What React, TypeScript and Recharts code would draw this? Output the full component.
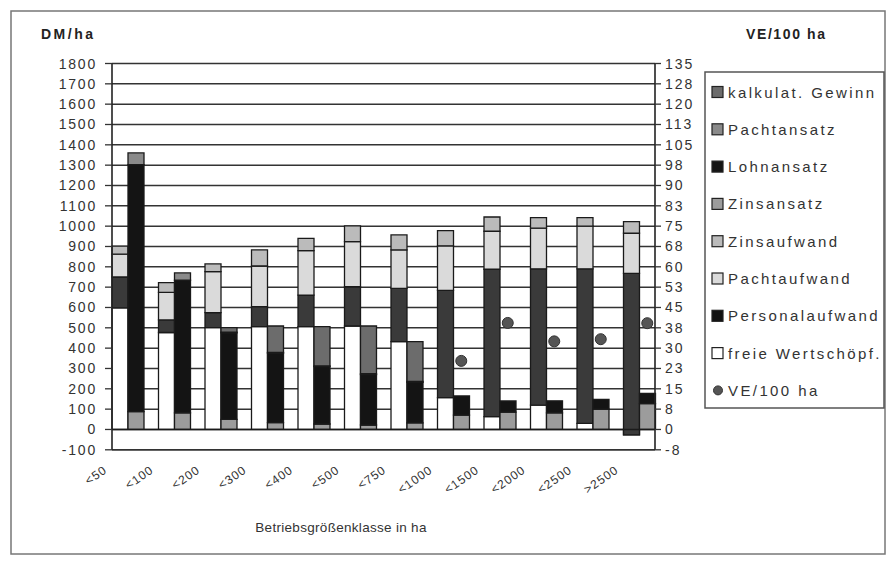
import React from 'react';
import { ComposedChart, Bar, Line, XAxis, YAxis, CartesianGrid, ReferenceLine } from 'recharts';

// ---------- data ----------
const categories = ['<50', '<100', '<200', '<300', '<400', '<500', '<750', '<1000', '<1500', '<2000', '<2500', '>2500'];

// left stack (DM/ha)
const freieWertschoepfung = [598, 477, 501, 506, 506, 509, 432, 157, 63, 120, 30, -27];
const personalaufwand = [152, 62, 74, 98, 155, 193, 262, 527, 725, 670, 760, 795];
const pachtaufwand = [112, 135, 201, 200, 219, 222, 189, 219, 187, 200, 210, 197];
const zinsaufwand = [40, 48, 38, 79, 60, 77, 74, 75, 70, 52, 42, 57];

// right stack (DM/ha)
const zinsansatz = [88, 82, 50, 34, 27, 22, 32, 71, 85, 82, 100, 127];
const lohnansatz = [1215, 652, 425, 341, 282, 248, 200, 94, 55, 59, 48, 51];
const pachtansatz = [57, 36, 4, 4, 4, 4, 4, 0, 0, 0, 0, 0];
const kalkGewinn = [0, 0, 22, 130, 193, 235, 196, 0, 0, 0, 0, 0];

// VE/100 ha (right axis)
const ve100ha: (number | null)[] = [null, null, null, null, null, null, null, 25.3, 39.3, 32.5, 33.3, 39.2];

// axis ticks
const leftTicks = [-100, 0, 100, 200, 300, 400, 500, 600, 700, 800, 900, 1000, 1100, 1200, 1300, 1400, 1500, 1600, 1700, 1800];
const rightTicks = [-7.5, 0, 7.5, 15, 22.5, 30, 37.5, 45, 52.5, 60, 67.5, 75, 82.5, 90, 97.5, 105, 112.5, 120, 127.5, 135];

const data = categories.map((c, i) => ({
  category: c,
  freie: freieWertschoepfung[i],
  personal: personalaufwand[i],
  pachtauf: pachtaufwand[i],
  zinsauf: zinsaufwand[i],
  zinsans: zinsansatz[i],
  lohnans: lohnansatz[i],
  pachtans: pachtansatz[i],
  kalk: kalkGewinn[i],
  ve: ve100ha[i],
}));

// ---------- styles ----------
const FONT = '"Liberation Sans", Arial, sans-serif';
const TXT = '#333';
const BORDER = '#1a1a1a';
const COLORS = {
  freie: '#ffffff',
  personal: '#3a3a3a',
  pachtauf: '#dadada',
  zinsauf: '#bbbbbb',
  zinsans: '#9c9c9c',
  lohnans: '#141414',
  pachtans: '#8a8a8a',
  kalk: '#6c6c6c',
  ve: '#555555',
};

const legendItems = [
  { label: 'kalkulat. Gewinn', color: COLORS.kalk, type: 'rect' },
  { label: 'Pachtansatz', color: COLORS.pachtans, type: 'rect' },
  { label: 'Lohnansatz', color: COLORS.lohnans, type: 'rect' },
  { label: 'Zinsansatz', color: COLORS.zinsans, type: 'rect' },
  { label: 'Zinsaufwand', color: COLORS.zinsauf, type: 'rect' },
  { label: 'Pachtaufwand', color: COLORS.pachtauf, type: 'rect' },
  { label: 'Personalaufwand', color: '#111', type: 'rect' },
  { label: 'freie Wertschöpf.', color: COLORS.freie, type: 'rect' },
  { label: 'VE/100 ha', color: COLORS.ve, type: 'circle' },
];

const fmtRight = (v: number) => (v < 0 ? '-' : '') + Math.round(Math.abs(v));

const LeftTick = (props: any) => {
  const { x, y, payload } = props;
  return (
    <text x={x} y={y} dy={5} textAnchor="end" fontSize={14} letterSpacing={1.8} fill={TXT} fontFamily={FONT}>
      {payload.value}
    </text>
  );
};

const RightTick = (props: any) => {
  const { x, y, payload } = props;
  return (
    <text x={x} y={y} dy={5} textAnchor="start" fontSize={14} letterSpacing={2} fill={TXT} fontFamily={FONT}>
      {fmtRight(payload.value)}
    </text>
  );
};

const CatTick = (props: any) => {
  const { x, y, payload } = props;
  return (
    <g transform={`translate(${x - 20},${y + 22})`}>
      <text x={0} y={0} textAnchor="end" transform="rotate(-35)" fontSize={12} letterSpacing={1} fill={TXT} fontFamily={FONT}>
        {payload.value}
      </text>
    </g>
  );
};

const VeDot = (props: any) => {
  const { cx, cy, payload } = props;
  if (cx == null || cy == null || payload == null || payload.ve == null) return <g />;
  return <circle cx={cx + 8} cy={cy} r={5.5} fill={COLORS.ve} stroke="#333" strokeWidth={1} />;
};

export default function App() {
  const barProps = { stroke: BORDER, strokeWidth: 1.3, isAnimationActive: false, yAxisId: 'left' } as any;
  return (
    <div style={{ position: 'absolute', left: 0, top: 0, width: 886, height: 568, background: '#fff', overflow: 'hidden' }}>
      <div style={{ position: 'absolute', left: 0, top: 0 }}>
        <ComposedChart
          width={886}
          height={568}
          data={data}
          margin={{ top: 63.5, right: 0, bottom: 0, left: 0 }}
          barCategoryGap={7.5}
          barGap={0}
        >
          <CartesianGrid yAxisId="left" vertical={false} stroke="#333" strokeWidth={1.5} />
          <XAxis
            dataKey="category"
            height={118.2}
            interval={0}
            tickLine={false}
            tickSize={0}
            tickMargin={0}
            tick={<CatTick />}
            axisLine={{ stroke: '#333', strokeWidth: 1.5 }}
            padding={{ left: -7.5, right: -7.5 }}
          />
          <YAxis
            yAxisId="left"
            orientation="left"
            width={112}
            domain={[-100, 1800]}
            ticks={leftTicks}
            interval={0}
            allowDataOverflow
            tickSize={7}
            tickMargin={8}
            tick={<LeftTick />}
            tickLine={{ stroke: '#333', strokeWidth: 1.3 }}
            axisLine={{ stroke: '#222', strokeWidth: 1.6 }}
          />
          <YAxis
            yAxisId="right"
            orientation="right"
            width={231}
            domain={[-7.5, 135]}
            ticks={rightTicks}
            interval={0}
            allowDataOverflow
            tickSize={6}
            tickMargin={4}
            tick={<RightTick />}
            tickLine={{ stroke: '#333', strokeWidth: 1.3 }}
            axisLine={{ stroke: '#222', strokeWidth: 1.6 }}
          />
          <Bar dataKey="freie" name="freie Wertschöpf." stackId="L" fill={COLORS.freie} {...barProps} />
          <Bar dataKey="personal" name="Personalaufwand" stackId="L" fill={COLORS.personal} {...barProps} />
          <Bar dataKey="pachtauf" name="Pachtaufwand" stackId="L" fill={COLORS.pachtauf} {...barProps} />
          <Bar dataKey="zinsauf" name="Zinsaufwand" stackId="L" fill={COLORS.zinsauf} {...barProps} />
          <Bar dataKey="zinsans" name="Zinsansatz" stackId="R" fill={COLORS.zinsans} {...barProps} />
          <Bar dataKey="lohnans" name="Lohnansatz" stackId="R" fill={COLORS.lohnans} {...barProps} />
          <Bar dataKey="pachtans" name="Pachtansatz" stackId="R" fill={COLORS.pachtans} {...barProps} />
          <Bar dataKey="kalk" name="kalkulat. Gewinn" stackId="R" fill={COLORS.kalk} {...barProps} />
          <ReferenceLine yAxisId="left" y={0} stroke="#1a1a1a" strokeWidth={1.6} />
          <Line
            yAxisId="right"
            dataKey="ve"
            name="VE/100 ha"
            stroke="none"
            dot={<VeDot />}
            activeDot={false}
            connectNulls={false}
            isAnimationActive={false}
          />
        </ComposedChart>
      </div>
      <svg width={886} height={568} style={{ position: 'absolute', left: 0, top: 0, pointerEvents: 'none' }}>
        <rect x={11} y={11} width={874} height={543} fill="none" stroke="#777" strokeWidth={1.5} />
        <text x={41} y={39} fontSize={14} fontWeight="bold" letterSpacing={2.5} fill="#222" fontFamily={FONT}>DM/ha</text>
        <text x={746} y={39} fontSize={14} fontWeight="bold" letterSpacing={1.6} fill="#222" fontFamily={FONT}>VE/100 ha</text>
        <text x={341} y={532} textAnchor="middle" fontSize={13.5} letterSpacing={0.3} fill={TXT} fontFamily={FONT}>Betriebsgrößenklasse in ha</text>
        <rect x={705} y={72} width={179} height={336} fill="#fff" stroke="#555" strokeWidth={1.5} />
        {legendItems.map((it, i) => {
          const cy = 92 + i * 37.3;
          return (
            <g key={it.label}>
              {it.type === 'rect' ? (
                <rect x={712} y={cy - 5.5} width={11} height={11} fill={it.color} stroke="#222" strokeWidth={1.2} />
              ) : (
                <circle cx={718} cy={cy} r={4.5} fill={it.color} stroke="#333" strokeWidth={1} />
              )}
              <text x={728} y={cy + 5.5} fontSize={15} letterSpacing={2.4} fill={TXT} fontFamily={FONT}>{it.label}</text>
            </g>
          );
        })}
      </svg>
    </div>
  );
}
